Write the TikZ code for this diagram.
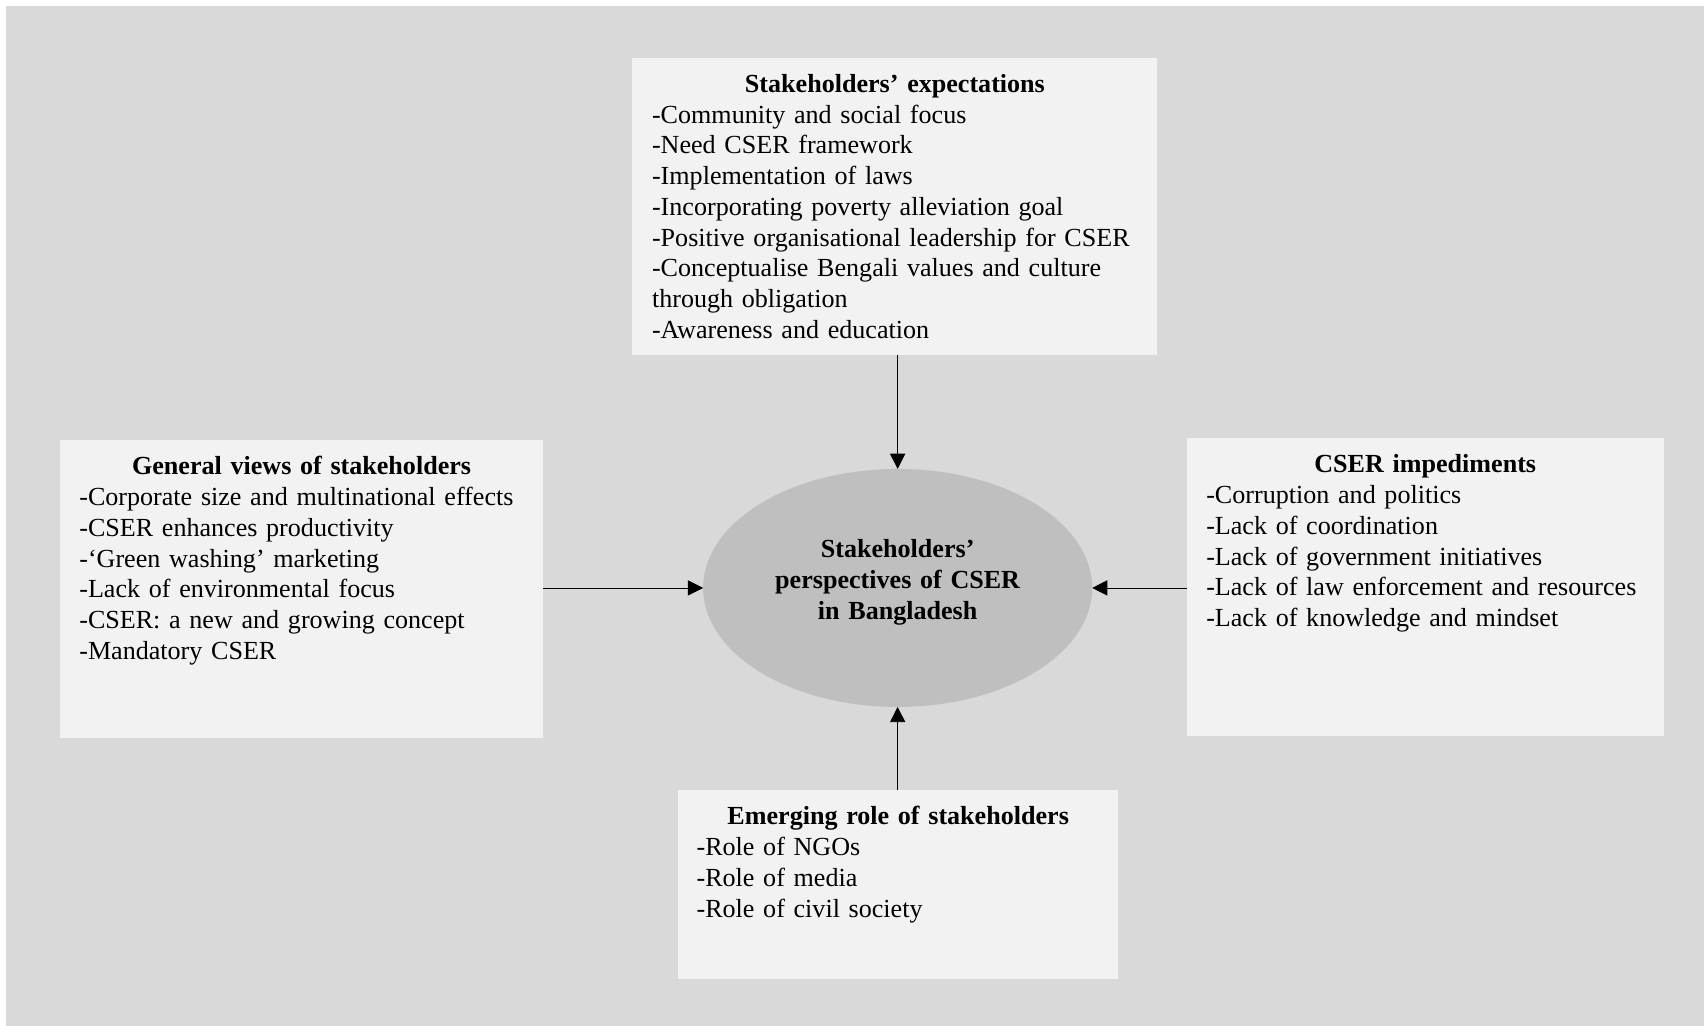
\documentclass[tikz,border=0pt]{standalone}
\usepackage{fontspec}
\setmainfont{Liberation Serif}
\usepackage{tikz}
\usetikzlibrary{shapes.geometric, arrows.meta}
\definecolor{canvasgray}{HTML}{D9D9D9}
\definecolor{boxgray}{HTML}{F2F2F2}
\definecolor{hubgray}{HTML}{BFBFBF}
\tikzset{
>={Triangle[length=7pt, width=7pt]}, % filled triangle heads
line width=1pt,
every node/.style={font=\fontsize{12}{14.15}\selectfont}, % body text size and line spacing
infobox/.style={fill=boxgray, anchor=north west, align=left, inner xsep=9pt, inner ysep=0pt, outer sep=0pt, text height=16pt}, % the four text panels
hub/.style={ellipse, fill=hubgray, minimum width=179pt, minimum height=109.5pt, inner sep=0pt, outer sep=0pt, text width=120pt, align=center, text height=10pt, text depth=38pt, font=\fontsize{12}{14.15}\selectfont\bfseries}, % the centre
}
\newcommand{\boxhead}[1]{\makebox[\linewidth][c]{\textbf{#1}}}

\begin{document}
\begin{tikzpicture}[x=0.5pt, y=-0.5pt]
    \useasboundingbox (0,0) rectangle (1568,944);
    \fill[canvasgray] (5.5,5.5) rectangle (1568,944);

    \node[hub] (hub) at (826,541) {Stakeholders’\\perspectives of CSER\\in Bangladesh};
    \node[infobox, text width=223.5pt, text depth=121pt] (expect) at (582,53) {\boxhead{Stakeholders’ expectations}\\
        -Community and social focus\\
        -Need CSER framework\\
        -Implementation of laws\\
        -Incorporating poverty alleviation goal\\
        -Positive organisational leadership for CSER\\
        -Conceptualise Bengali values and culture\\
        through obligation\\
        -Awareness and education};
    \node[infobox, text width=204.5pt, text depth=121pt] (views) at (55,405) {\boxhead{General views of stakeholders}\\
        -Corporate size and multinational effects\\
        -CSER enhances productivity\\
        -‘Green washing’ marketing\\
        -Lack of environmental focus\\
        -CSER: a new and growing concept\\
        -Mandatory CSER};
    \node[infobox, text width=201.5pt, text depth=121pt] (imped) at (1092,403) {\boxhead{CSER impediments}\\
        -Corruption and politics\\
        -Lack of coordination\\
        -Lack of government initiatives\\
        -Lack of law enforcement and resources\\
        -Lack of knowledge and mindset};
    \node[infobox, text width=185.5pt, text depth=71pt, inner xsep=8.5pt] (emerge) at (624,727) {\boxhead{Emerging role of stakeholders}\\
        -Role of NGOs\\
        -Role of media\\
        -Role of civil society};

    \draw
    (expect.south -| hub) edge[->] (hub.north)
    (views.east |- hub) edge[->] (hub.west)
    (imped.west |- hub) edge[->] (hub.east)
    (emerge.north -| hub) edge[->] (hub.south);
  \end{tikzpicture}
\end{document}
